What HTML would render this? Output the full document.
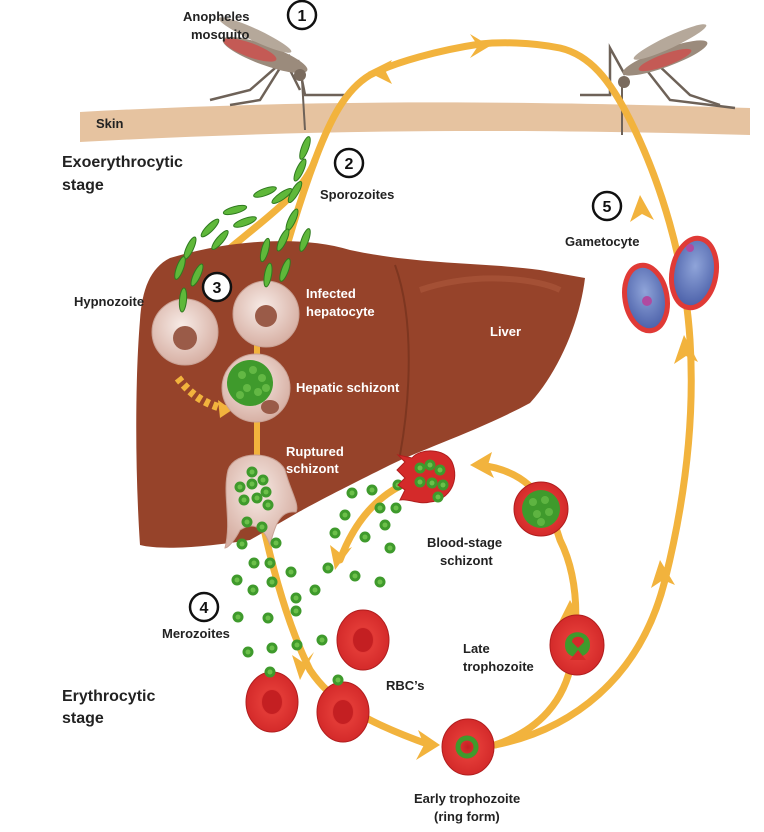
<!DOCTYPE html>
<html><head><meta charset="utf-8"><style>
body{margin:0;background:#fff}
svg{display:block}
text{font-family:"Liberation Sans",sans-serif;font-weight:bold}
</style></head><body>
<svg width="764" height="832" viewBox="0 0 764 832">
<defs>
<radialGradient id="rbc" cx="50%" cy="50%" r="50%"><stop offset="0" stop-color="#c41f22"/><stop offset="0.45" stop-color="#e23a36"/><stop offset="1" stop-color="#d42a2a"/></radialGradient>
<radialGradient id="hep" cx="45%" cy="40%" r="60%"><stop offset="0" stop-color="#f7ebe6"/><stop offset="1" stop-color="#d7b0a4"/></radialGradient>
<radialGradient id="gam" cx="50%" cy="40%" r="60%"><stop offset="0" stop-color="#8fa4d9"/><stop offset="1" stop-color="#4a5fa8"/></radialGradient>
<g id="mz"><circle r="5.5" fill="#3f9a2c"/><circle r="2.5" fill="#6cc04a"/></g>
<g id="sp"><ellipse rx="3.5" ry="12" fill="#5fb83a" stroke="#2f7a1f" stroke-width="1"/></g>
</defs>

<!-- skin -->
<path d="M80,112 C300,100 500,100 750,108 L750,135 C500,128 300,130 80,142 Z" fill="#e6c3a0"/>
<text x="96" y="128" font-size="13" fill="#222">Skin</text>

<!-- mosquito left -->
<g stroke="#6e6258" stroke-width="2.5" fill="none">
<path d="M290,55 L250,90 L210,100"/><path d="M285,60 L260,100 L230,105"/>
<path d="M298,60 L305,95 L345,95"/><path d="M290,70 L300,90"/>
<path d="M302,80 L305,130" stroke-width="2"/>
</g>
<ellipse cx="265" cy="55" rx="45" ry="10" transform="rotate(20 265 55)" fill="#9b8b7c"/>
<ellipse cx="250" cy="50" rx="28" ry="7" transform="rotate(20 250 50)" fill="#c45a55"/>
<ellipse cx="255" cy="35" rx="40" ry="6" transform="rotate(25 255 35)" fill="#b5a89a"/>
<circle cx="300" cy="75" r="6" fill="#7a6b5e"/>

<!-- mosquito right -->
<g stroke="#6e6258" stroke-width="2.5" fill="none">
<path d="M625,75 L610,48 L610,95 L580,95"/><path d="M645,68 L670,100 L735,108"/>
<path d="M655,62 L690,95 L720,105"/>
<path d="M622,85 L622,135" stroke-width="2"/>
</g>
<ellipse cx="665" cy="58" rx="45" ry="9" transform="rotate(-20 665 58)" fill="#9b8b7c"/>
<ellipse cx="665" cy="60" rx="28" ry="6" transform="rotate(-20 665 60)" fill="#c45a55"/>
<ellipse cx="670" cy="42" rx="40" ry="6" transform="rotate(-25 670 42)" fill="#b5a89a"/>
<circle cx="624" cy="82" r="6" fill="#7a6b5e"/>

<!-- big outer loop -->
<g fill="none" stroke="#f2b33d" stroke-width="7" stroke-linecap="round">
<path d="M495,745 C570,730 640,680 665,580 C685,500 695,420 690,340 C685,260 660,180 630,120 C610,80 590,55 560,48 C530,42 500,42 480,44 C440,50 395,62 370,75 C345,90 330,120 315,160 C305,190 270,215 240,240 C215,260 195,280 190,300"/>
<path d="M315,160 C300,200 285,250 275,290"/>
<path d="M262,520 C275,580 290,630 310,670 C330,700 360,720 430,745"/>
<path d="M495,745 C540,730 565,700 572,660 C580,610 575,570 560,540 C545,490 520,470 480,465"/>
<path d="M420,478 C380,490 355,520 340,560"/>
</g>
<g fill="#f2b33d">
<polygon points="470,34 490,46 470,58 478,46"/>
<polygon points="368,72 392,60 386,72 392,84"/>
<polygon points="640,195 654,220 642,214 630,222"/>
<polygon points="684,335 698,362 686,356 674,364"/>
<polygon points="660,560 675,585 663,580 651,588"/>
<polygon points="440,745 418,730 424,745 416,760"/>
<polygon points="300,680 292,655 304,663 314,652"/>
<polygon points="570,600 582,622 570,617 558,624"/>
<polygon points="470,465 492,452 488,465 494,478"/>
<polygon points="335,570 330,545 340,553 352,547"/>
</g>

<!-- liver -->
<path d="M170,258 C230,240 300,235 350,250 C420,265 480,262 540,270 L585,278 C580,320 560,370 530,403 C480,430 420,450 390,465 C360,480 320,500 297,513 L250,540 C200,548 160,550 140,545 C135,470 135,380 140,320 C142,290 150,268 170,258 Z" fill="#96432a"/>
<path d="M395,265 C415,320 410,400 400,455" stroke="#7d3620" stroke-width="2" fill="none"/>
<path d="M420,290 C480,270 540,280 560,290" stroke="#ad5a3e" stroke-width="6" fill="none" opacity="0.6"/>
<g fill="none" stroke="#f2b33d" stroke-width="6"><path d="M257,340 L257,360 M257,420 L257,455"/></g>
<path d="M178,378 C195,400 210,405 228,410" stroke="#f2b33d" stroke-width="8" fill="none" stroke-dasharray="5 4"/>
<polygon points="232,410 218,400 220,418" fill="#f2b33d"/>

<!-- hepatocytes -->
<circle cx="185" cy="332" r="33" fill="url(#hep)" stroke="#c9a194"/>
<circle cx="185" cy="338" r="12" fill="#9a5b48"/>
<circle cx="266" cy="314" r="33" fill="url(#hep)" stroke="#c9a194"/>
<circle cx="266" cy="316" r="11" fill="#9a5b48"/>
<circle cx="256" cy="388" r="34" fill="url(#hep)" stroke="#c9a194"/>
<circle cx="250" cy="383" r="23" fill="#3f9a2c"/>
<g fill="#6cc04a" opacity="0.8">
<circle cx="242" cy="375" r="4"/><circle cx="253" cy="370" r="4"/><circle cx="262" cy="378" r="4"/><circle cx="247" cy="388" r="4"/><circle cx="258" cy="392" r="4"/><circle cx="240" cy="395" r="4"/><circle cx="266" cy="388" r="4"/></g>
<ellipse cx="270" cy="407" rx="9" ry="7" fill="#9a5b48"/>
<path d="M228,470 C235,450 275,450 285,470 C290,490 300,505 296,512 C280,510 275,525 270,545 C265,530 255,520 240,530 C235,540 228,548 225,548 C232,520 222,495 228,470 Z" fill="url(#hep)" stroke="#c9a194"/>
<g>
<use href="#mz" x="252" y="472"/><use href="#mz" x="240" y="487"/><use href="#mz" x="252" y="484"/><use href="#mz" x="263" y="480"/><use href="#mz" x="244" y="500"/><use href="#mz" x="257" y="498"/><use href="#mz" x="266" y="492"/><use href="#mz" x="268" y="505"/>
</g>

<!-- sporozoites -->
<g>
<use href="#sp" transform="translate(305,148) rotate(20)"/><use href="#sp" transform="translate(300,170) rotate(25)"/>
<use href="#sp" transform="translate(295,192) rotate(30)"/><use href="#sp" transform="translate(282,196) rotate(55)"/>
<use href="#sp" transform="translate(265,192) rotate(70)"/><use href="#sp" transform="translate(235,210) rotate(75)"/>
<use href="#sp" transform="translate(245,222) rotate(70)"/><use href="#sp" transform="translate(210,228) rotate(45)"/>
<use href="#sp" transform="translate(220,240) rotate(40)"/><use href="#sp" transform="translate(190,248) rotate(25)"/>
<use href="#sp" transform="translate(180,268) rotate(20)"/><use href="#sp" transform="translate(197,275) rotate(25)"/>
<use href="#sp" transform="translate(183,300) rotate(5)"/><use href="#sp" transform="translate(292,220) rotate(25)"/>
<use href="#sp" transform="translate(305,240) rotate(20)"/><use href="#sp" transform="translate(283,240) rotate(25)"/>
<use href="#sp" transform="translate(265,250) rotate(15)"/><use href="#sp" transform="translate(268,275) rotate(10)"/>
<use href="#sp" transform="translate(285,270) rotate(20)"/>
</g>

<!-- merozoites free -->
<g>
<use href="#mz" x="247" y="522"/><use href="#mz" x="262" y="527"/><use href="#mz" x="276" y="543"/><use href="#mz" x="242" y="544"/>
<use href="#mz" x="254" y="563"/><use href="#mz" x="270" y="563"/><use href="#mz" x="291" y="572"/><use href="#mz" x="237" y="580"/>
<use href="#mz" x="253" y="590"/><use href="#mz" x="272" y="582"/><use href="#mz" x="296" y="598"/><use href="#mz" x="238" y="617"/>
<use href="#mz" x="268" y="618"/><use href="#mz" x="296" y="611"/><use href="#mz" x="248" y="652"/><use href="#mz" x="272" y="648"/>
<use href="#mz" x="297" y="645"/><use href="#mz" x="322" y="640"/><use href="#mz" x="315" y="590"/><use href="#mz" x="328" y="568"/>
<use href="#mz" x="335" y="533"/><use href="#mz" x="345" y="515"/><use href="#mz" x="352" y="493"/><use href="#mz" x="372" y="490"/>
<use href="#mz" x="380" y="508"/><use href="#mz" x="385" y="525"/><use href="#mz" x="365" y="537"/><use href="#mz" x="390" y="548"/>
<use href="#mz" x="355" y="576"/><use href="#mz" x="380" y="582"/><use href="#mz" x="398" y="485"/><use href="#mz" x="396" y="508"/>
</g>

<!-- blood-stage -->
<path d="M405,462 L398,455 L412,458 C420,448 445,448 452,462 C460,480 450,500 430,502 C418,505 408,498 400,500 L405,490 L398,485 L405,478 L397,470 Z" fill="#d42a2a" stroke="#b01d1d"/>
<g><use href="#mz" x="420" y="468"/><use href="#mz" x="430" y="465"/><use href="#mz" x="440" y="470"/><use href="#mz" x="420" y="482"/><use href="#mz" x="432" y="483"/><use href="#mz" x="443" y="485"/><use href="#mz" x="438" y="497"/></g>
<circle cx="541" cy="509" r="27" fill="url(#rbc)" stroke="#b01d1d"/>
<circle cx="541" cy="509" r="19" fill="#3f9a2c"/>
<g fill="#6cc04a" opacity="0.7"><circle cx="533" cy="502" r="4"/><circle cx="545" cy="500" r="4"/><circle cx="537" cy="514" r="4"/><circle cx="549" cy="512" r="4"/><circle cx="541" cy="522" r="4"/></g>
<ellipse cx="577" cy="645" rx="27" ry="30" fill="url(#rbc)" stroke="#b01d1d"/>
<path d="M565,645 C565,628 590,628 590,645 C590,660 565,662 565,645 Z" fill="#3f9a2c"/>
<path d="M572,642 C572,635 584,635 584,642 L578,648 Z" fill="#d42a2a"/>
<path d="M570,660 L586,660 L578,650 Z" fill="#d42a2a"/>
<ellipse cx="468" cy="747" rx="26" ry="28" fill="url(#rbc)" stroke="#b01d1d"/>
<circle cx="467" cy="747" r="9" fill="none" stroke="#3f9a2c" stroke-width="5"/>

<!-- RBCs -->
<ellipse cx="272" cy="702" rx="26" ry="30" fill="url(#rbc)" stroke="#b01d1d"/>
<ellipse cx="272" cy="702" rx="10" ry="12" fill="#c41f22"/>
<ellipse cx="343" cy="712" rx="26" ry="30" fill="url(#rbc)" stroke="#b01d1d"/>
<ellipse cx="343" cy="712" rx="10" ry="12" fill="#c41f22"/>
<ellipse cx="363" cy="640" rx="26" ry="30" fill="url(#rbc)" stroke="#b01d1d"/>
<ellipse cx="363" cy="640" rx="10" ry="12" fill="#c41f22"/>
<use href="#mz" x="270" y="672"/><use href="#mz" x="338" y="680"/>

<!-- gametocytes -->
<ellipse cx="646" cy="298" rx="21" ry="33" transform="rotate(-10 646 298)" fill="url(#gam)" stroke="#e03a36" stroke-width="5"/>
<circle cx="647" cy="301" r="5" fill="#b04aa0"/>
<ellipse cx="694" cy="273" rx="22" ry="35" transform="rotate(10 694 273)" fill="url(#gam)" stroke="#e03a36" stroke-width="5"/>
<circle cx="690" cy="248" r="4" fill="#b04aa0"/>

<!-- numbers -->
<g fill="#fff" stroke="#111" stroke-width="2.5">
<circle cx="302" cy="15" r="14"/><circle cx="349" cy="163" r="14"/><circle cx="217" cy="287" r="14"/><circle cx="204" cy="607" r="14"/><circle cx="607" cy="206" r="14"/>
</g>
<g font-size="16" fill="#111" text-anchor="middle">
<text x="302" y="21">1</text><text x="349" y="169">2</text><text x="217" y="293">3</text><text x="204" y="613">4</text><text x="607" y="212">5</text>
</g>

<!-- labels -->
<g font-size="13" fill="#222">
<text x="183" y="21">Anopheles</text><text x="191" y="39">mosquito</text>
<text x="320" y="199">Sporozoites</text>
<text x="565" y="246">Gametocyte</text>
<text x="74" y="306">Hypnozoite</text>
<text x="427" y="547">Blood-stage</text><text x="440" y="565">schizont</text>
<text x="162" y="638">Merozoites</text>
<text x="463" y="653">Late</text><text x="463" y="671">trophozoite</text>
<text x="386" y="690">RBC’s</text>
<text x="414" y="803">Early trophozoite</text><text x="434" y="821">(ring form)</text>
</g>
<g font-size="13" fill="#fff">
<text x="306" y="298">Infected</text><text x="306" y="316">hepatocyte</text>
<text x="490" y="336">Liver</text>
<text x="296" y="392">Hepatic schizont</text>
<text x="286" y="456">Ruptured</text><text x="286" y="473">schizont</text>
</g>
<g font-size="16" fill="#222">
<text x="62" y="167">Exoerythrocytic</text><text x="62" y="190">stage</text>
<text x="62" y="701">Erythrocytic</text><text x="62" y="723">stage</text>
</g>
</svg>
</body></html>
